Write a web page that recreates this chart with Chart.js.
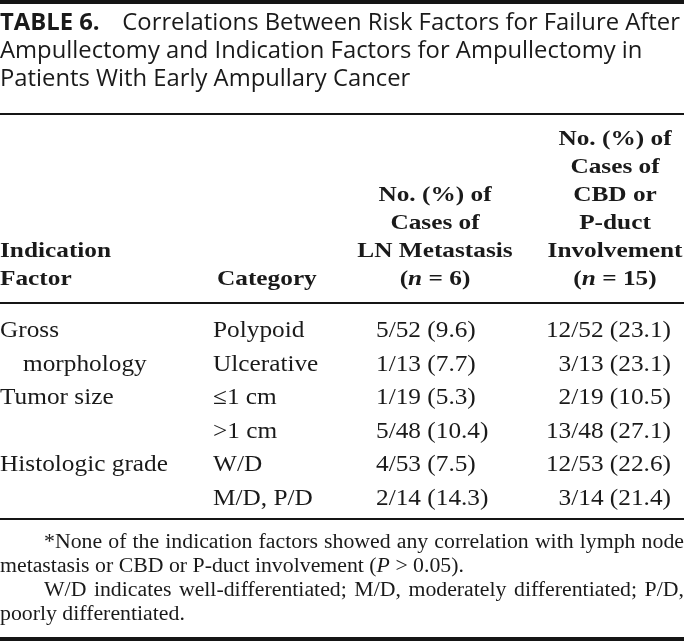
<!DOCTYPE html>
<html>
<head>
<meta charset="utf-8">
<script src="https://cdn.jsdelivr.net/npm/chart.js@4.4.1/dist/chart.umd.min.js"></script>
<style>
  html, body { margin: 0; padding: 0; background: #fff; }
  #page { position: relative; width: 684px; height: 641px; overflow: hidden; background: #fff; color: #1a1a1a; }
  #table { position: absolute; left: 0; top: 0; }
  .rule { position: absolute; left: 0; width: 684px; background: #151515; }
  #title { position: absolute; left: 0; top: 7px; font-family: "Open Sans", sans-serif; font-size: 23px;
           transform-origin: 0 0; white-space: nowrap; }
  #title div { height: 28px; line-height: 28px; }
  #title .gap { display: inline-block; width: 22px; }
  #notes { position: absolute; left: 0; top: 529px; width: 684px; font-family: "Liberation Serif", serif; font-size: 20px; }
  #notes div { height: 24px; line-height: 24px; white-space: nowrap; transform-origin: 0 0; }
  #notes .j { margin-left: 44px; text-align: justify; text-align-last: justify; }
</style>
</head>
<body>
<div id="page">
  <canvas id="table" width="684" height="641"></canvas>
  <div class="rule" style="top:0;height:4px"></div>
  <div id="title">
    <div><b>TABLE 6.</b><span class="gap"></span>Correlations Between Risk Factors for Failure After</div>
    <div>Ampullectomy and Indication Factors for Ampullectomy in</div>
    <div>Patients With Early Ampullary Cancer</div>
  </div>
  <div class="rule" style="top:113px;height:2px"></div>
  <div class="rule" style="top:302px;height:2px"></div>
  <div class="rule" style="top:518px;height:2px"></div>
  <div id="notes">
    <div class="j">*None of the indication factors showed any correlation with lymph node</div>
    <div>metastasis or CBD or P-duct involvement (<i>P</i> &gt; 0.05).</div>
    <div class="j">W/D indicates well-differentiated; M/D, moderately differentiated; P/D,</div>
    <div>poorly differentiated.</div>
  </div>
  <div class="rule" style="top:637px;height:4px"></div>
</div>
<script>
// table data
const FACTOR_LINES = ['Gross', 'morphology', 'Tumor size', '', 'Histologic grade', ''];
const CATEGORIES = ['Polypoid', 'Ulcerative', '≤1 cm', '>1 cm', 'W/D', 'M/D, P/D'];
const TOTALS = [52, 13, 19, 48, 53, 14];
const LN_CASES = [5, 1, 1, 5, 4, 2];
const LN_PCT = [9.6, 7.7, 5.3, 10.4, 7.5, 14.3];
const DUCT_CASES = [12, 3, 2, 13, 12, 3];
const DUCT_PCT = [23.1, 23.1, 10.5, 27.1, 22.6, 21.4];
const HEADERS = [
  ['Indication', 'Factor'],
  ['Category'],
  ['No. (%) of', 'Cases of', 'LN Metastasis', '(_n_ = 6)'],
  ['No. (%) of', 'Cases of', 'CBD or', 'P-duct', 'Involvement', '(_n_ = 15)']
];

// layout
const W = 684, H = 641;
const HEAD_BASE = 285, HEAD_STEP = 28;
const BODY_BASE = 337, BODY_STEP = 33.5;
const INDENT_ROWS = [1], INDENT = 23;
const COLS = [
  { x: 0, align: 'left', hx: 0, halign: 'left' },
  { x: 213, align: 'left', hx: 217, halign: 'left' },
  { x: 376, align: 'left', hx: 435, halign: 'center' },
  { x: 671, align: 'right', hx: 615, halign: 'center' }
];
const HEAD_PX = 22, HEAD_SX = 1.15, BODY_PX = 23, BODY_SX = 1.1, NOTE_SX = 1.09;

const fmt = (n, t, p) => `${n}/${t} (${p.toFixed(1)})`;
const cells = [
  FACTOR_LINES,
  CATEGORIES,
  LN_CASES.map((n, i) => fmt(n, TOTALS[i], LN_PCT[i])),
  DUCT_CASES.map((n, i) => fmt(n, TOTALS[i], DUCT_PCT[i]))
];

function drawRich(ctx, str, x, y, align, bold) {
  const parts = str.split('_').map((s, i) => ({ s, it: i % 2 === 1 })).filter(p => p.s);
  const px = bold ? HEAD_PX : BODY_PX;
  const sx = bold ? HEAD_SX : BODY_SX;
  const font = p => `${p.it ? 'italic ' : ''}${bold ? 'bold ' : ''}${px}px "Liberation Serif"`;
  let w = 0;
  parts.forEach(p => { ctx.font = font(p); p.w = ctx.measureText(p.s).width; w += p.w; });
  w *= sx;
  const left = align === 'left' ? x : align === 'right' ? x - w : x - w / 2;
  ctx.save();
  ctx.translate(left, y);
  ctx.scale(sx, 1);
  ctx.fillStyle = '#1a1a1a';
  ctx.textAlign = 'left';
  ctx.textBaseline = 'alphabetic';
  let cx = 0;
  parts.forEach(p => { ctx.font = font(p); ctx.fillText(p.s, cx, 0); cx += p.w; });
  ctx.restore();
}

const tableText = {
  id: 'tableText',
  afterDatasetsDraw(chart) {
    const ctx = chart.ctx;
    chart.data.datasets.forEach((ds, di) => {
      chart.getDatasetMeta(di).data.forEach((pt, i) => {
        drawRich(ctx, ds.data[i].text, pt.x, pt.y, ds.align, ds.bold);
      });
    });
  }
};

const datasets = [];
HEADERS.forEach((lines, c) => {
  datasets.push({
    label: 'head' + c, bold: true, align: COLS[c].halign,
    data: lines.map((t, k) => ({ x: COLS[c].hx, y: HEAD_BASE - (lines.length - 1 - k) * HEAD_STEP, text: t }))
  });
});
cells.forEach((col, c) => {
  datasets.push({
    label: 'body' + c, bold: false, align: COLS[c].align,
    data: col.map((t, i) => ({
      x: COLS[c].x + (c === 0 && INDENT_ROWS.includes(i) ? INDENT : 0),
      y: BODY_BASE + i * BODY_STEP, text: t
    }))
  });
});

function drawTable() {
  new Chart(document.getElementById('table'), {
    type: 'scatter',
    data: { datasets },
    options: {
      responsive: false,
      animation: false,
      layout: { padding: 0 },
      elements: { point: { radius: 0, hoverRadius: 0 } },
      plugins: { legend: { display: false }, tooltip: { enabled: false } },
      events: [],
      scales: {
        x: { type: 'linear', min: 0, max: W, display: false },
        y: { type: 'linear', min: 0, max: H, reverse: true, display: false }
      }
    },
    plugins: [tableText]
  });
}

// stretch title and notes like the printed page
const title = document.getElementById('title');
title.style.transform = `scaleX(${680 / title.firstElementChild.scrollWidth})`;
document.querySelectorAll('#notes div').forEach(d => {
  d.style.transform = `scaleX(${NOTE_SX})`;
  if (d.classList.contains('j')) d.style.width = (640 / NOTE_SX) + 'px';
});

Promise.all([
  document.fonts.load(`${BODY_PX}px "Liberation Serif"`),
  document.fonts.load(`bold ${HEAD_PX}px "Liberation Serif"`),
  document.fonts.load(`italic bold ${HEAD_PX}px "Liberation Serif"`)
]).then(drawTable, drawTable);
</script>
</body>
</html>
